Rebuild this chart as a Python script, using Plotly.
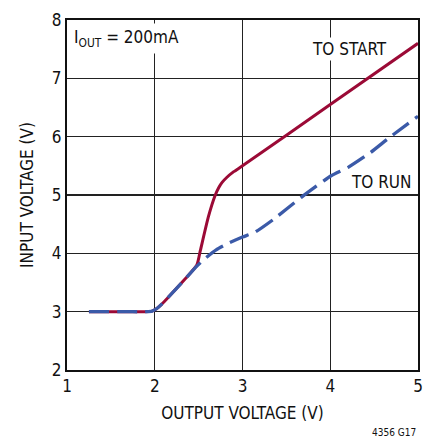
import plotly.graph_objects as go

# TO START curve
start_x = [1.25, 1.6, 1.9, 1.97, 2.02, 2.08, 2.15, 2.34, 2.48, 2.52, 2.61, 2.69, 2.73, 2.77, 2.82, 2.9, 3.0, 4.0, 5.0]
start_y = [3.0, 3.0, 3.0, 3.01, 3.05, 3.13, 3.24, 3.55, 3.8, 4.05, 4.62, 5.0, 5.13, 5.22, 5.3, 5.4, 5.50, 6.55, 7.60]

# TO RUN curve
run_x = [1.25, 1.6, 1.9, 1.97, 2.02, 2.08, 2.15, 2.34, 2.48, 2.58, 2.7, 2.85, 3.0, 3.14, 3.36, 3.67, 4.01, 4.2, 4.46, 4.67, 5.0]
run_y = [3.0, 3.0, 3.0, 3.01, 3.05, 3.13, 3.24, 3.55, 3.78, 3.92, 4.06, 4.18, 4.28, 4.36, 4.59, 4.96, 5.33, 5.47, 5.73, 5.98, 6.35]

x_ticks = [1, 2, 3, 4, 5]
y_ticks = [2, 3, 4, 5, 6, 7, 8]

FONT = "DejaVu Sans Condensed, Liberation Sans Narrow, Liberation Sans, Arial, sans-serif"

fig = go.Figure()
fig.add_trace(go.Scatter(x=start_x, y=start_y, mode="lines",
                         line=dict(color="#9b0a36", width=3, shape="spline", smoothing=0.5),
                         hoverinfo="skip"))
fig.add_trace(go.Scatter(x=run_x, y=run_y, mode="lines",
                         line=dict(color="#3b5aa8", width=3.3, dash="20px,8px", shape="spline", smoothing=0.5),
                         hoverinfo="skip"))

fig.update_layout(
    width=433, height=438,
    margin=dict(l=67, r=10, t=18, b=68),
    paper_bgcolor="white", plot_bgcolor="white",
    showlegend=False,
    font=dict(family=FONT, color="#111111", size=16),
    xaxis=dict(range=[1, 5], tickvals=x_ticks, ticks="", showgrid=True,
               gridcolor="#222222", gridwidth=1.2, zeroline=False,
               showline=True, linecolor="#111111", linewidth=2, mirror=True,
               tickfont=dict(size=17), title=dict(text="OUTPUT VOLTAGE (V)", font=dict(size=17), standoff=12)),
    yaxis=dict(range=[2, 8], tickvals=y_ticks, ticks="", showgrid=True,
               gridcolor="#222222", gridwidth=1.2, zeroline=False,
               showline=True, linecolor="#111111", linewidth=2, mirror=True,
               tickfont=dict(size=17), title=dict(text="INPUT VOLTAGE (V)", font=dict(size=17), standoff=14)),
    annotations=[
        dict(x=1.0, y=8.0, xref="x", yref="y", xanchor="left", yanchor="top",
             text="I<sub>OUT</sub> = 200mA", showarrow=False, bgcolor="white",
             font=dict(size=17), xshift=3, yshift=-3, borderpad=3),
        dict(x=4.67, y=7.5, xref="x", yref="y", xanchor="right", yanchor="middle",
             text="TO START", showarrow=False, bgcolor="white", font=dict(size=17)),
        dict(x=4.95, y=5.23, xref="x", yref="y", xanchor="right", yanchor="middle",
             text="TO RUN", showarrow=False, bgcolor="white", font=dict(size=17)),
        dict(x=1.0, y=0.0, xref="paper", yref="paper", xanchor="right", yanchor="top",
             text="4356 G17", showarrow=False, font=dict(size=10), yshift=-55),
    ],
)

fig.write_html("out.html", config={"displayModeBar": False, "staticPlot": True},
               post_script="document.body.style.margin='0';document.body.style.overflow='hidden';")
